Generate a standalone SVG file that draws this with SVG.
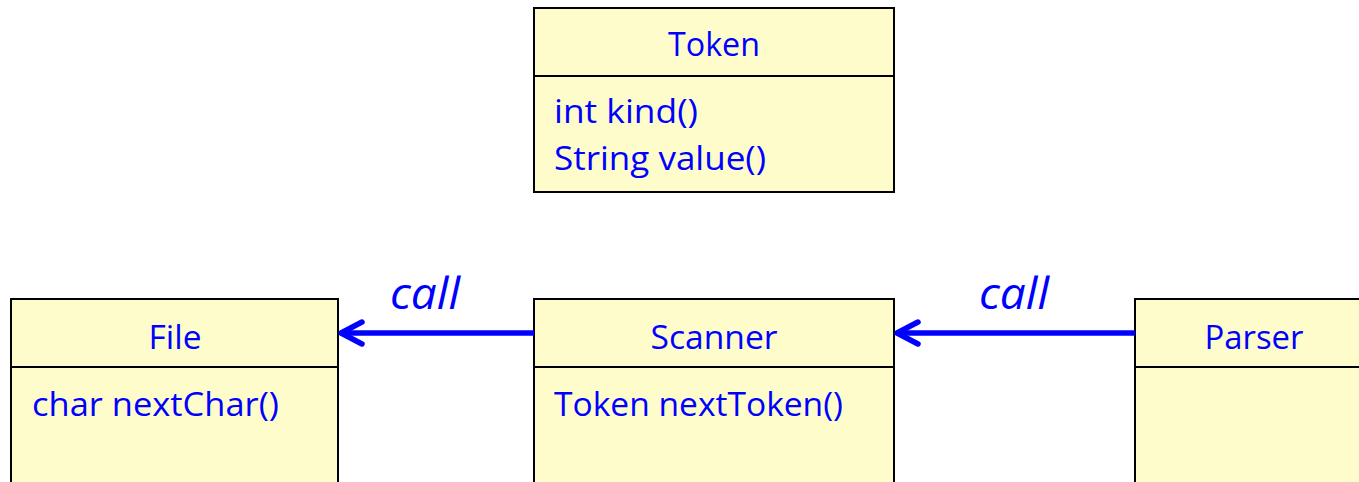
<svg xmlns="http://www.w3.org/2000/svg" width="1359" height="482" viewBox="0 0 1359 482">
<defs>
<style>
.box{fill:#FFFCCC;stroke:#000;stroke-width:2}
.t{font-family:"Open Sans","Noto Sans","Liberation Sans",sans-serif;font-size:33px;fill:#0000FF}
.c{text-anchor:middle}
.call{font-family:"Open Sans","Noto Sans","Liberation Sans",sans-serif;font-size:43px;font-style:italic;fill:#0000FF}
.conn{stroke:#0000FF;stroke-width:5.5;fill:none}
.head{stroke:#0000FF;stroke-width:5.5;fill:none;stroke-linecap:round;stroke-linejoin:round}
</style>
</defs>
<g id="token">
<rect class="box" x="534" y="8" width="360" height="68"/>
<rect class="box" x="534" y="76" width="360" height="116"/>
<text class="t c" x="714" y="56" textLength="92" lengthAdjust="spacingAndGlyphs">Token</text>
<text class="t" x="554" y="123" textLength="144" lengthAdjust="spacingAndGlyphs">int kind()</text>
<text class="t" x="554" y="170" textLength="212" lengthAdjust="spacingAndGlyphs">String value()</text>
</g>
<g id="file">
<rect class="box" x="11" y="299" width="327" height="68"/>
<rect class="box" x="11" y="367" width="327" height="120"/>
<text class="t c" x="175" y="349" textLength="53" lengthAdjust="spacingAndGlyphs">File</text>
<text class="t" x="32" y="416" textLength="247" lengthAdjust="spacingAndGlyphs">char nextChar()</text>
</g>
<g id="scanner">
<rect class="box" x="534" y="299" width="360" height="68"/>
<rect class="box" x="534" y="367" width="360" height="120"/>
<text class="t c" x="714" y="349" textLength="127" lengthAdjust="spacingAndGlyphs">Scanner</text>
<text class="t" x="554" y="416" textLength="289" lengthAdjust="spacingAndGlyphs">Token nextToken()</text>
</g>
<g id="parser">
<rect class="box" x="1135" y="299" width="230" height="68"/>
<rect class="box" x="1135" y="367" width="230" height="120"/>
<text class="t c" x="1254" y="349" textLength="99" lengthAdjust="spacingAndGlyphs">Parser</text>
</g>
<g id="connectors">
<line class="conn" x1="534" y1="333" x2="342" y2="333"/>
<polyline class="head" points="362,322 341,333 362,344"/>
<text class="call" x="390" y="309" textLength="70" lengthAdjust="spacingAndGlyphs">call</text>
<line class="conn" x1="1135" y1="333" x2="898" y2="333"/>
<polyline class="head" points="918,322 897,333 918,344"/>
<text class="call" x="979" y="309" textLength="70" lengthAdjust="spacingAndGlyphs">call</text>
</g>
</svg>
